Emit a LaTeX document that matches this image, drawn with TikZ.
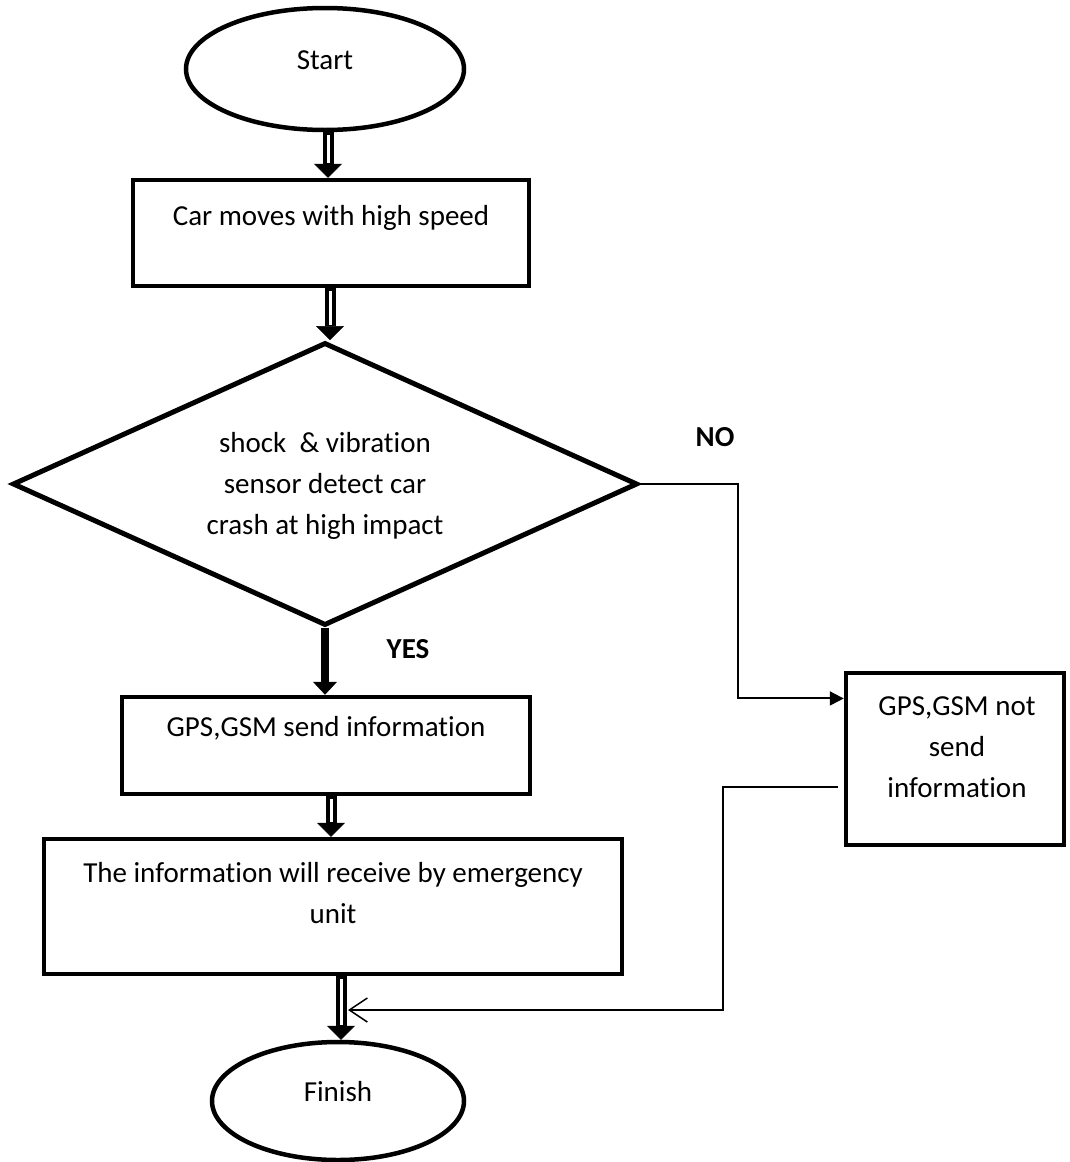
\documentclass[tikz,border=0pt]{standalone}
\usepackage{fontspec}
\setmainfont{Carlito}[Ligatures={NoCommon}]
\usetikzlibrary{shapes.geometric,arrows.meta,calc}
\begin{document}
\begin{tikzpicture}[x=1pt,y=-1pt,
  txt/.style={font=\fontsize{29}{41}\selectfont,inner sep=0pt,align=center},
  lbl/.style={font=\fontsize{29}{41}\selectfont\bfseries,inner sep=0pt},
  ell/.style={draw,ellipse,line width=4.5pt,inner sep=0pt},
  box/.style={draw,rectangle,line width=4.5pt,inner sep=0pt},
  dia/.style={draw,diamond,line width=5pt,inner sep=0pt},
  hollow/.style={line width=11pt,-{Triangle[width=28pt,length=14pt,line width=0.5pt]},
    postaction={draw=white,line width=3pt,shorten >=15pt,shorten <=3pt,-}},
  yesarrow/.style={line width=8pt,-{Triangle[width=24pt,length=13pt,line width=0.5pt]}},
  conn/.style={line width=2pt},
  thin/.style={line width=1.5pt}]
\fill[white] (0,0) rectangle (1070,1162);
\useasboundingbox (0,0) rectangle (1070,1162);

% nodes
\node[ell,minimum width=278pt,minimum height=122pt] (s) at (325,69) {};
\node[txt] (st) at (325,60) {Start};

\node[box,minimum width=396pt,minimum height=106pt] (b1) at (331,233) {};
\node[txt] (b1t) at (331,218) {Car moves with high speed};

\node[dia,minimum width=625pt,minimum height=283pt] (d) at (325,484) {};
\node[txt] (dt) at (325,486) {shock \ \& vibration\\sensor detect car\\crash at high impact};

\node[lbl] (no) at (715,437) {NO};
\node[lbl] (yes) at (408,649) {YES};

\node[box,minimum width=408pt,minimum height=97pt] (g) at (326,745.5) {};
\node[txt] (gt) at (326,728) {GPS,GSM send information};

\node[box,minimum width=578pt,minimum height=135pt] (i) at (333,906.5) {};
\node[txt] (it) at (333,893) {The information will receive by emergency\\unit};

\node[ell,minimum width=252pt,minimum height=118pt] (f) at (338,1101) {};
\node[txt] (ft) at (338,1092) {Finish};

\node[box,minimum width=218pt,minimum height=172pt] (r) at (955,759) {};
\node[txt] (rt) at (957,747) {GPS,GSM not\\send\\information};

% helper coordinates
\coordinate (nx) at (738,484);
\coordinate (rin) at ($(r.north west)!0.157!(r.south west)$);
\coordinate (rout) at (838,787);
\coordinate (rx) at (723,787);
\coordinate (fin) at (348,1010);

% connectors
\draw[hollow] (s.south -| 328,0) -- (b1.north -| 328,0);
\draw[hollow] (b1.south -| 330,0) -- (d.north -| 330,0);
\draw[yesarrow] (d.south) -- (d.south |- g.north);
\draw[hollow] (g.south -| 331,0) -- (i.north -| 331,0);
\draw[hollow] (i.south -| 341,0) -- (f.north -| 341,0);

\draw[conn,-{Triangle[width=14pt,length=14pt]}] (d.east) -- (nx) |- (rin);
\draw[thin,-{Straight Barb[width=24pt,length=18pt,line width=1.5pt]}] (rout) -- (rx) |- (fin);
\end{tikzpicture}
\end{document}
